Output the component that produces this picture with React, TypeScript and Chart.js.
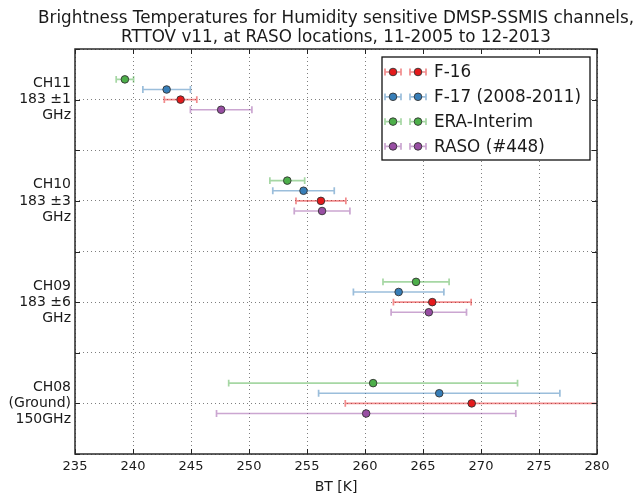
import React, { useEffect, useRef } from 'react';
import { Chart, registerables } from 'chart.js';

Chart.register(...registerables);

// ---- data ----
const CHANNEL_LABELS: string[][] = [
  ['CH08', '(Ground)', '150GHz'],
  ['CH09', '183 \u00b16', 'GHz'],
  ['CH10', '183 \u00b13', 'GHz'],
  ['CH11', '183 \u00b11', 'GHz'],
];
const SERIES_NAMES = ['F-16', 'F-17 (2008-2011)', 'ERA-Interim', 'RASO (#448)'];
// order: CH08, CH09, CH10, CH11
const F16_BT = [269.2, 265.8, 256.2, 244.1];
const F16_ERR = [10.9, 3.35, 2.15, 1.4];
const F17_BT = [266.4, 262.9, 254.7, 242.9];
const F17_ERR = [10.4, 3.9, 2.65, 2.05];
const ERA_BT = [260.7, 264.4, 253.3, 239.3];
const ERA_ERR = [12.45, 2.85, 1.5, 0.75];
const RASO_BT = [260.1, 265.5, 256.3, 247.6];
const RASO_ERR = [12.9, 3.25, 2.4, 2.65];
const X_MIN = 235;
const X_MAX = 280;
const X_STEP = 5;
const TITLE_LINES = [
  'Brightness Temperatures for Humidity sensitive DMSP-SSMIS channels,',
  'RTTOV v11, at RASO locations, 11-2005 to 12-2013',
];
const X_LABEL = 'BT [K]';

const FONT = "'DejaVu Sans', sans-serif";
const TEXT = '#1a1a1a';

export default function App() {
  const ref = useRef<HTMLCanvasElement>(null);

  useEffect(() => {
    const styles = [
      { color: '#e41a1c', bar: 'rgba(228,26,28,0.5)', off: 0 },
      { color: '#377eb8', bar: 'rgba(55,126,184,0.5)', off: 0.1 },
      { color: '#4daf4a', bar: 'rgba(77,175,74,0.5)', off: 0.2 },
      { color: '#984ea3', bar: 'rgba(152,78,163,0.5)', off: -0.1 },
    ];
    const values = [F16_BT, F17_BT, ERA_BT, RASO_BT];
    const errors = [F16_ERR, F17_ERR, ERA_ERR, RASO_ERR];
    const R = 3.8;

    const datasets: any[] = SERIES_NAMES.map((name, k) => ({
      label: name,
      data: values[k].map((v, i) => ({ x: v, y: i + styles[k].off })),
      err: errors[k],
      errColor: styles[k].bar,
      backgroundColor: styles[k].color,
      borderColor: '#333',
      borderWidth: 0.9,
      pointRadius: R,
      pointHoverRadius: R,
      showLine: false,
    }));

    const errorBars = {
      id: 'errorBars',
      beforeDatasetsDraw(chart: any) {
        const { ctx, chartArea: a, scales } = chart;
        const x = scales.x, y = scales.y;
        ctx.save();
        ctx.beginPath();
        ctx.rect(a.left, a.top, a.right - a.left, a.bottom - a.top);
        ctx.clip();
        chart.data.datasets.forEach((ds: any) => {
          ctx.strokeStyle = ds.errColor;
          ctx.lineWidth = 1.7;
          ds.data.forEach((p: any, i: number) => {
            const e = ds.err[i];
            const x1 = x.getPixelForValue(p.x - e);
            const x2 = x.getPixelForValue(p.x + e);
            const py = y.getPixelForValue(p.y);
            ctx.beginPath();
            ctx.moveTo(x1, py);
            ctx.lineTo(x2, py);
            ctx.moveTo(x1, py - 3.4);
            ctx.lineTo(x1, py + 3.4);
            ctx.moveTo(x2, py - 3.4);
            ctx.lineTo(x2, py + 3.4);
            ctx.stroke();
          });
        });
        ctx.restore();
      },
    };

    const frameAndLegend = {
      id: 'frameAndLegend',
      afterDraw(chart: any) {
        const { ctx, chartArea: a, scales } = chart;
        const x = scales.x, y = scales.y;
        ctx.save();
        // title
        ctx.fillStyle = TEXT;
        ctx.font = `16.8px ${FONT}`;
        ctx.textAlign = 'center';
        ctx.textBaseline = 'middle';
        const cx = (a.left + a.right) / 2;
        ctx.fillText(TITLE_LINES[0], cx, 18.5);
        ctx.fillText(TITLE_LINES[1], cx, 37.5);

        // inward ticks
        ctx.strokeStyle = '#222';
        ctx.lineWidth = 1;
        ctx.beginPath();
        x.ticks.forEach((t: any) => {
          const px = Math.round(x.getPixelForValue(t.value)) + 0.5;
          ctx.moveTo(px, a.bottom);
          ctx.lineTo(px, a.bottom - 5);
          ctx.moveTo(px, a.top);
          ctx.lineTo(px, a.top + 5);
        });
        y.ticks.forEach((t: any) => {
          const py = Math.round(y.getPixelForValue(t.value)) + 0.5;
          ctx.moveTo(a.left, py);
          ctx.lineTo(a.left + 5, py);
          ctx.moveTo(a.right, py);
          ctx.lineTo(a.right - 5, py);
        });
        ctx.stroke();
        // frame
        ctx.strokeStyle = '#2a2a2a';
        ctx.lineWidth = 1.5;
        ctx.strokeRect(a.left, a.top, a.right - a.left, a.bottom - a.top);

        // legend
        const bw = 208, bh = 103;
        const bx = a.right - 7 - bw;
        const by = a.top + 8;
        ctx.fillStyle = '#fff';
        ctx.fillRect(bx, by, bw, bh);
        ctx.strokeStyle = '#111';
        ctx.lineWidth = 1.3;
        ctx.strokeRect(bx, by, bw, bh);
        ctx.font = `16.8px ${FONT}`;
        ctx.textBaseline = 'middle';
        ctx.textAlign = 'left';
        chart.data.datasets.forEach((ds: any, k: number) => {
          const cy = by + 15 + k * 24.8;
          [bx + 11, bx + 36].forEach((mx) => {
            ctx.strokeStyle = ds.errColor;
            ctx.lineWidth = 1.7;
            ctx.beginPath();
            ctx.moveTo(mx - 8, cy);
            ctx.lineTo(mx + 8, cy);
            ctx.moveTo(mx - 8, cy - 3.4);
            ctx.lineTo(mx - 8, cy + 3.4);
            ctx.moveTo(mx + 8, cy - 3.4);
            ctx.lineTo(mx + 8, cy + 3.4);
            ctx.stroke();
            ctx.beginPath();
            ctx.arc(mx, cy, R, 0, Math.PI * 2);
            ctx.fillStyle = ds.backgroundColor;
            ctx.fill();
            ctx.strokeStyle = '#333';
            ctx.lineWidth = 0.9;
            ctx.stroke();
          });
          ctx.fillStyle = TEXT;
          ctx.fillText(ds.label, bx + 52, cy + 1);
        });
        ctx.restore();
      },
    };

    const chart = new Chart(ref.current as HTMLCanvasElement, {
      type: 'scatter',
      data: { datasets },
      options: {
        animation: false,
        responsive: true,
        maintainAspectRatio: false,
        layout: { padding: { left: 0, right: 40, top: 49, bottom: 0 } },
        plugins: {
          legend: { display: false },
          tooltip: { enabled: false },
          title: { display: false },
        },
        scales: {
          x: {
            type: 'linear',
            min: X_MIN,
            max: X_MAX,
            ticks: {
              stepSize: X_STEP,
              color: TEXT,
              font: { family: FONT, size: 13 },
              padding: 5,
            },
            grid: {
              color: 'rgba(0,0,0,0.5)',
              drawTicks: false,
              lineWidth: 1,
            },
            border: { display: false, dash: [1, 3] },
            title: {
              display: true,
              text: X_LABEL,
              color: TEXT,
              font: { family: FONT, size: 14 },
              padding: { top: 0, bottom: 0 },
            },
            afterFit: (s: any) => {
              s.height = 42;
            },
          },
          y: {
            type: 'linear',
            min: -0.5,
            max: 3.5,
            ticks: {
              stepSize: 0.5,
              autoSkip: false,
              color: TEXT,
              font: { family: FONT, size: 14, lineHeight: 1.15 },
              padding: 4,
              callback: (v: any) => {
                const n = Number(v);
                return Number.isInteger(n) ? CHANNEL_LABELS[n] : '';
              },
            },
            grid: {
              color: 'rgba(0,0,0,0.5)',
              drawTicks: false,
              lineWidth: 1,
            },
            border: { display: false, dash: [1, 3] },
            afterFit: (s: any) => {
              s.width = 75;
            },
          },
        },
      } as any,
      plugins: [errorBars, frameAndLegend],
    });
    return () => chart.destroy();
  }, []);

  return (
    <div style={{ position: 'fixed', left: 0, top: 0, width: 637, height: 496, background: '#fff' }}>
      <canvas ref={ref} />
    </div>
  );
}
